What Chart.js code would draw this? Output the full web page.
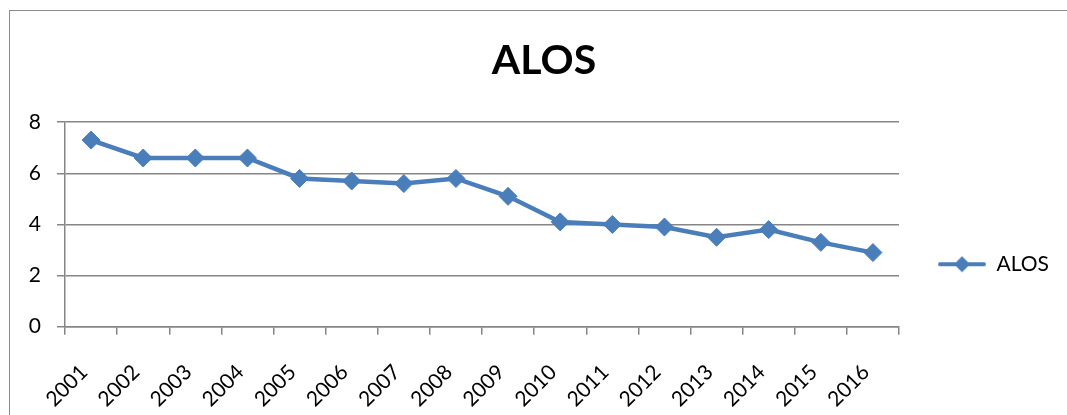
<!DOCTYPE html>
<html>
<head>
<meta charset="utf-8">
<script src="https://cdn.jsdelivr.net/npm/chart.js@4/dist/chart.umd.min.js"></script>
<style>
  html, body { margin: 0; padding: 0; background: #fff; }
  #wrap { width: 1067px; height: 415px; position: relative; }
</style>
</head>
<body>
<div id="wrap"><canvas id="lineChart"></canvas></div>
<script>
// data
var years = ['2001','2002','2003','2004','2005','2006','2007','2008',
             '2009','2010','2011','2012','2013','2014','2015','2016'];
var alos = [7.3, 6.6, 6.6, 6.6, 5.8, 5.7, 5.6, 5.8, 5.1, 4.1, 4.0, 3.9, 3.5, 3.8, 3.3, 2.9];
var yTicks = [0, 2, 4, 6, 8];

var blue = '#4A7EBB';
var gridGrey = '#868686';

// legend marker: short line with a diamond on it
function legendMarker() {
    var c = document.createElement('canvas');
    c.width = 48;
    c.height = 20;
    var g = c.getContext('2d');
    g.strokeStyle = blue;
    g.lineWidth = 4;
    g.lineCap = 'round';
    g.beginPath();
    g.moveTo(2, 10);
    g.lineTo(46, 10);
    g.stroke();
    g.fillStyle = blue;
    g.beginPath();
    g.moveTo(24, 2);
    g.lineTo(32, 10);
    g.lineTo(24, 18);
    g.lineTo(16, 10);
    g.closePath();
    g.fill();
    return c;
}

// white background + the thin chart frame (cut off right/bottom like the original)
var framePlugin = {
    id: 'frame',
    beforeDraw: function(chart) {
        var ctx = chart.ctx;
        ctx.save();
        ctx.fillStyle = '#fff';
        ctx.fillRect(0, 0, chart.width, chart.height);
        ctx.strokeStyle = '#8c8c8c';
        ctx.lineWidth = 1;
        ctx.strokeRect(9.5, 10.5, chart.width + 20, chart.height + 20);
        ctx.restore();
    }
};

Chart.defaults.font.family = 'Lato, "Open Sans", sans-serif';
Chart.defaults.color = '#000';

var ctx = document.getElementById('lineChart').getContext('2d');
new Chart(ctx, {
    type: 'line',
    data: {
        labels: years,
        datasets: [{
            label: 'ALOS',
            data: alos,
            borderColor: blue,
            backgroundColor: blue,
            borderWidth: 4.5,
            fill: false,
            tension: 0,
            pointStyle: 'rectRot',
            pointRadius: 9,
            pointBorderWidth: 1,
            pointBackgroundColor: blue,
            pointBorderColor: blue
        }]
    },
    options: {
        responsive: true,
        maintainAspectRatio: false,
        animation: false,
        layout: { padding: { top: 12, left: 29, right: 8, bottom: -22 } },
        plugins: {
            title: {
                display: true,
                text: 'ALOS',
                color: '#000',
                font: { size: 41, weight: 'bold' },
                padding: { top: 24, bottom: 37 }
            },
            legend: {
                position: 'right',
                // empty title only used to push the entry down
                title: { display: true, text: ' ', font: { size: 2 }, padding: { top: 0, bottom: 77 } },
                labels: {
                    usePointStyle: true,
                    pointStyleWidth: 48,
                    padding: 39,
                    font: { size: 21 },
                    color: '#000',
                    generateLabels: function(chart) {
                        return [{
                            text: 'ALOS',
                            pointStyle: legendMarker(),
                            fillStyle: blue,
                            strokeStyle: blue,
                            lineWidth: 0,
                            datasetIndex: 0,
                            hidden: false
                        }];
                    }
                }
            },
            tooltip: { enabled: false }
        },
        scales: {
            x: {
                type: 'category',
                offset: true,
                afterFit: function(scale) {
                    scale.paddingLeft = 0;
                    scale.paddingRight = 0;
                },
                grid: {
                    offset: true,
                    drawOnChartArea: false,
                    drawTicks: true,
                    tickLength: 8,
                    color: gridGrey,
                    lineWidth: 1.5
                },
                border: { display: true, color: gridGrey, width: 1.5 },
                ticks: {
                    minRotation: 45,
                    maxRotation: 45,
                    autoSkip: false,
                    padding: 25,
                    labelOffset: -7,
                    font: { size: 21 },
                    color: '#000'
                }
            },
            y: {
                min: 0,
                max: 8,
                afterBuildTicks: function(axis) {
                    axis.ticks = yTicks.map(function(v) { return { value: v }; });
                },
                afterFit: function(axis) {
                    axis.width = 36;
                },
                grid: {
                    color: gridGrey,
                    lineWidth: 1.5,
                    tickLength: 8
                },
                border: { display: true, color: gridGrey, width: 1.5 },
                ticks: {
                    padding: 16,
                    font: { size: 21 },
                    color: '#000'
                }
            }
        }
    },
    plugins: [framePlugin]
});
</script>
</body>
</html>
